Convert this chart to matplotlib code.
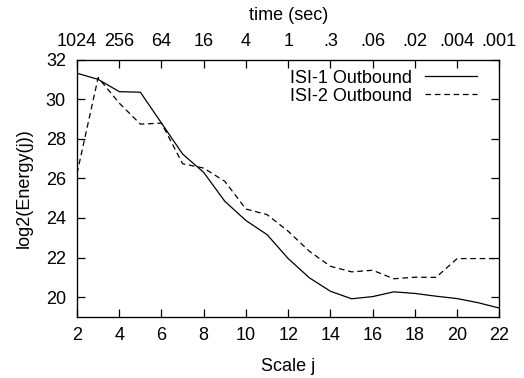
import matplotlib
matplotlib.use("Agg")
import matplotlib.pyplot as plt

plt.rcParams['font.family'] = ['Liberation Sans', 'DejaVu Sans']

scale_j = list(range(2, 23))
isi1 = [31.31, 31.0, 30.38, 30.35, 28.79, 27.23, 26.3, 24.84, 23.87, 23.16, 21.95,
        20.98, 20.30, 19.92, 20.03, 20.27, 20.19, 20.05, 19.93, 19.72, 19.45]
isi2 = [26.25, 31.09, 29.8, 28.74, 28.79, 26.74, 26.52, 25.85, 24.45, 24.17, 23.33,
        22.32, 21.56, 21.28, 21.36, 20.93, 21.01, 21.0, 21.95, 21.95, 21.95]
top_ticks = [2, 4, 6, 8, 10, 12, 14, 16, 18, 20, 22]
top_labels = ['1024', '256', '64', '16', '4', '1', '.3', '.06', '.02', '.004', '.001']
bottom_ticks = [2, 4, 6, 8, 10, 12, 14, 16, 18, 20, 22]
y_ticks = [20, 22, 24, 26, 28, 30, 32]

FS = 13

fig = plt.figure(figsize=(5.24, 3.78), dpi=100)
ax = fig.add_axes([0.147, 0.1614, 0.806, 0.681])

ax.plot(scale_j, isi1, color='black', lw=0.9, label='ISI-1 Outbound')
ax.plot(scale_j, isi2, color='black', lw=0.9, dashes=(4.5, 3), label='ISI-2 Outbound')

ax.set_xlim(2, 22)
ax.set_ylim(19, 32)
ax.set_xticks(bottom_ticks)
ax.set_yticks(y_ticks)
ax.tick_params(axis='both', direction='in', length=6, width=0.9, labelsize=FS,
               right=True, top=False)
ax.tick_params(axis='x', pad=7)
ax.tick_params(axis='y', pad=8)
for s in ax.spines.values():
    s.set_linewidth(0.9)
ax.set_xlabel('Scale j', fontsize=FS, labelpad=10)
ax.set_ylabel('log2(Energy(j))', fontsize=FS, labelpad=9.5)

ax2 = ax.twiny()
ax2.set_xlim(2, 22)
ax2.set_xticks(top_ticks)
ax2.set_xticklabels(top_labels)
ax2.tick_params(direction='in', length=6, width=0.9, labelsize=FS, pad=7)
ax2.set_xlabel('time (sec)', fontsize=FS, labelpad=9)

leg = ax.legend(loc='upper right', frameon=False, markerfirst=False, fontsize=FS,
                handlelength=2.9, handletextpad=0.68, labelspacing=0.05,
                borderaxespad=0.0, borderpad=0.0, bbox_to_anchor=(0.947, 0.961))

fig.savefig('out.png', dpi=100)
